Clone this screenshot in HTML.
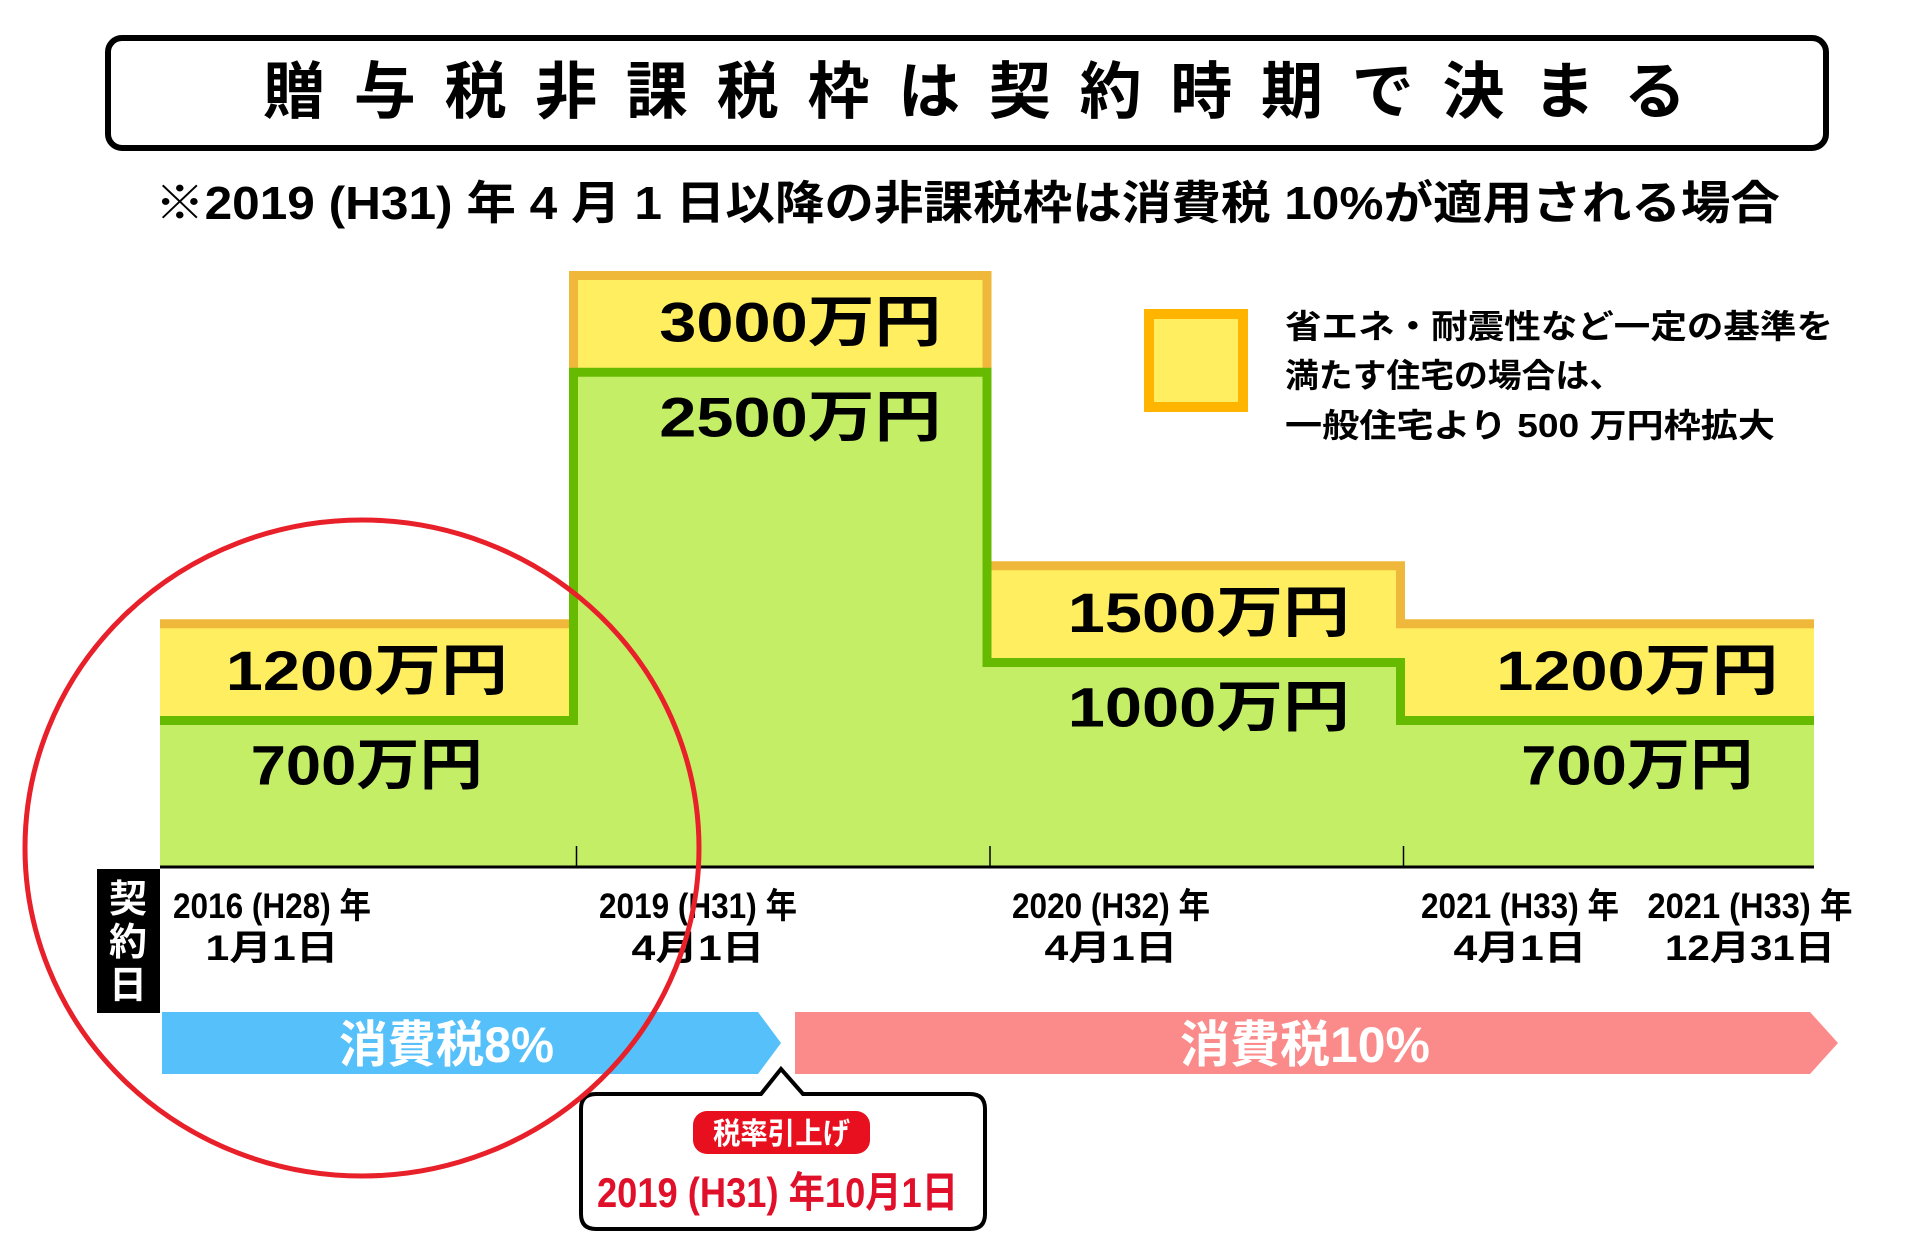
<!DOCTYPE html>
<html><head><meta charset="utf-8"><style>
html,body{margin:0;padding:0;background:#fff;}
svg{display:block;}
text{font-family:"Liberation Sans","Noto Sans CJK JP",sans-serif;font-weight:bold;}
</style></head><body>
<svg id="chart" width="1920" height="1238" viewBox="0 0 1920 1238" xmlns="http://www.w3.org/2000/svg">
<rect x="108" y="38" width="1718" height="110" rx="14" fill="#fff" stroke="#000" stroke-width="6"/>
<text x="263" y="113" font-size="62" textLength="1423" lengthAdjust="spacing">贈与税非課税枠は契約時期で決まる</text>
<text x="155" y="219" font-size="46" textLength="1625" lengthAdjust="spacingAndGlyphs">※2019 (H31) 年 4 月 1 日以降の非課税枠は消費税 10%が適用される場合</text>
<g id="bars"></g>
<g>
<rect x="1149" y="314" width="94" height="93" fill="#ffee60" stroke="#ffb400" stroke-width="10"/>
<text x="1285" y="338" font-size="33" textLength="548" lengthAdjust="spacingAndGlyphs">省エネ・耐震性など一定の基準を</text>
<text x="1285" y="387" font-size="33" textLength="338" lengthAdjust="spacingAndGlyphs">満たす住宅の場合は、</text>
<text x="1285" y="437" font-size="33" textLength="490" lengthAdjust="spacingAndGlyphs">一般住宅より 500 万円枠拡大</text>
</g>
<g id="xlabels"></g>
<rect x="97" y="869" width="63" height="144" fill="#000"/>
<text x="128" y="912" font-size="38" fill="#fff" text-anchor="middle">契</text>
<text x="128" y="955" font-size="38" fill="#fff" text-anchor="middle">約</text>
<text x="128" y="998" font-size="38" fill="#fff" text-anchor="middle">日</text>
<polygon points="162,1012 758,1012 781,1043 758,1074 162,1074" fill="#55c0fa"/>
<text x="339" y="1062" font-size="50" fill="#fff" textLength="215" lengthAdjust="spacingAndGlyphs">消費税8%</text>
<polygon points="795,1012 1810,1012 1838,1043 1810,1074 795,1074" fill="#fb8a8a"/>
<text x="1180" y="1062" font-size="50" fill="#fff" textLength="250" lengthAdjust="spacingAndGlyphs">消費税10%</text>
<path d="M596,1094 L761,1094 L781,1069 L803,1094 L970,1094 Q985,1094 985,1109 L985,1214 Q985,1229 970,1229 L596,1229 Q581,1229 581,1214 L581,1109 Q581,1094 596,1094 Z" fill="#fff" stroke="#000" stroke-width="4"/>
<rect x="693" y="1111" width="177" height="43" rx="14" fill="#e8101f"/>
<text x="713" y="1144" font-size="30" fill="#fff" textLength="137" lengthAdjust="spacingAndGlyphs">税率引上げ</text>
<text x="597" y="1207" font-size="42" fill="#e0102a" textLength="361" lengthAdjust="spacingAndGlyphs">2019 (H31) 年10月1日</text>
<ellipse cx="362" cy="848" rx="337" ry="328" fill="none" stroke="#e8202a" stroke-width="5"/>
</svg>
<script>
const periods = ["2016 (H28) 年|1月1日", "2019 (H31) 年|4月1日", "2020 (H32) 年|4月1日", "2021 (H33) 年|4月1日"];
const endLabel = ["2021 (H33)  年", "12月31日"];
const generalLimit = [700, 2500, 1000, 700];
const ecoLimit = [1200, 3000, 1500, 1200];

const NS = "http://www.w3.org/2000/svg";
const X0 = 160, X1 = 1814, AXIS_Y = 867;
const colW = (X1 - X0) / generalLimit.length;
function xScale(i) { return X0 + i * colW; }
function yScale(v) { return AXIS_Y - (11 + 0.1935 * v); }
function mk(tag, attrs, parent) {
  const el = document.createElementNS(NS, tag);
  for (const k in attrs) el.setAttribute(k, attrs[k]);
  parent.appendChild(el);
  return el;
}
const g = document.getElementById("bars");
const labelShift = [0, 20, 15, 30];
for (let i = 0; i < generalLimit.length; i++) {
  const x = xScale(i), w = colW;
  const yE = yScale(ecoLimit[i]), yG = yScale(generalLimit[i]);
  const ry = mk("rect", {x: x, y: yE, width: w, height: AXIS_Y - yE, fill: "#ffee60"}, g);
  
  
  const rg = mk("rect", {x: x, y: yG, width: w, height: AXIS_Y - yG, fill: "#c3ee66"}, g);
  
  
}
function stepPath(vals) {
  let d = "M" + xScale(0) + "," + yScale(vals[0]);
  for (let i = 0; i < vals.length; i++) {
    d += " L" + xScale(i + 1) + "," + yScale(vals[i]);
    if (i + 1 < vals.length) d += " L" + xScale(i + 1) + "," + yScale(vals[i + 1]);
  }
  return d;
}
const po = mk("path", {d: stepPath(ecoLimit), fill: "none", stroke: "#f0b83a", "stroke-width": 9}, g);


const pg = mk("path", {d: stepPath(generalLimit), fill: "none", stroke: "#66bb00", "stroke-width": 9}, g);


function fmt(v) { return v + "万円"; }
for (let i = 0; i < generalLimit.length; i++) {
  const cx = xScale(i) + colW / 2 + labelShift[i];
  const pairs = [[ecoLimit[i], 66, 'eco-value-label-'], [generalLimit[i], 64, 'general-value-label-']];
  for (const [v, off, nm] of pairs) {
    const s = fmt(v);
    const len = 50 * String(v).length + 82;
    const t = mk("text", {x: cx - len / 2, y: yScale(v) + off, "font-size": 56, textLength: len, lengthAdjust: "spacingAndGlyphs"}, g);
    t.textContent = s;
    
    
  }
}
const ax = mk("line", {x1: X0, y1: AXIS_Y, x2: X1, y2: AXIS_Y, stroke: "#000", "stroke-width": 3}, g);


for (let i = 1; i < generalLimit.length; i++) {
  const tk = mk("line", {x1: xScale(i) + 3, y1: AXIS_Y - 21, x2: xScale(i) + 3, y2: AXIS_Y, stroke: "#000", "stroke-width": 1.5}, g);
  
  
}
const xl = document.getElementById("xlabels");
const allLabels = periods.map(p => p.split("|")).concat([endLabel]);
const lblX = [272, 698, 1111, 1520, 1750];
for (let i = 0; i < allLabels.length; i++) {
  const cx = lblX[i];
  const t1 = mk("text", {x: cx, y: 918, "font-size": 35, "text-anchor": "middle", textLength: i === 4 ? 205 : 198, lengthAdjust: "spacingAndGlyphs"}, xl);
  t1.textContent = allLabels[i][0];
  
  
  const t2 = mk("text", {x: cx, y: 960, "font-size": 35, "text-anchor": "middle", textLength: i === 4 ? 170 : 133, lengthAdjust: "spacingAndGlyphs"}, xl);
  t2.textContent = allLabels[i][1];
  
  
}
</script>
</body></html>
